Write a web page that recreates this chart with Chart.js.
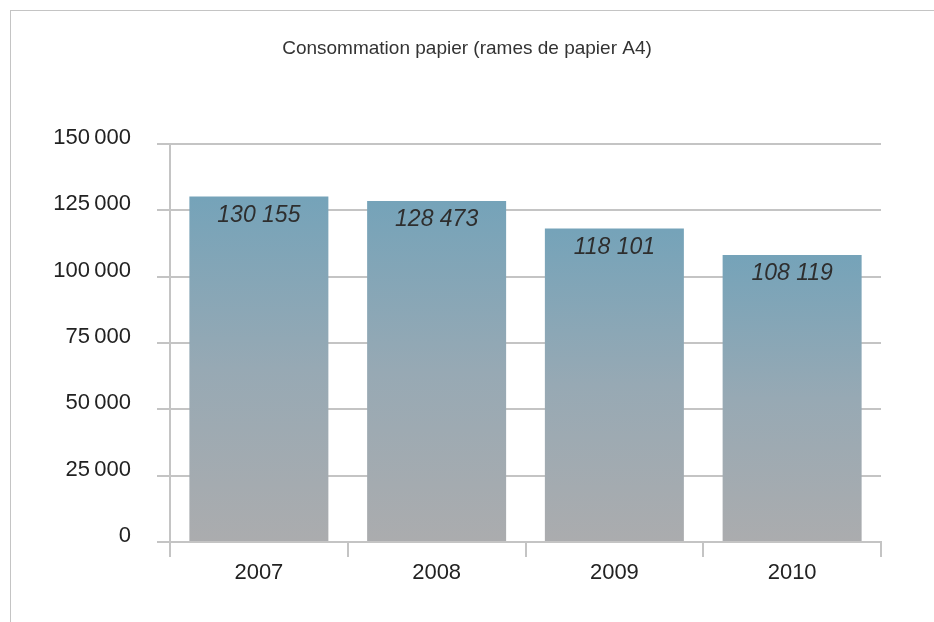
<!DOCTYPE html>
<html>
<head>
<meta charset="utf-8">
<script src="https://cdn.jsdelivr.net/npm/chart.js@4.4.0/dist/chart.umd.min.js"></script>
<style>
  html, body { margin: 0; padding: 0; background: #fff; }
  #wrap { position: relative; width: 934px; height: 622px; }
  #frame { position: absolute; left: 10px; top: 10px; right: 0; bottom: 0;
           border-top: 1px solid #c4c4c4; border-left: 1px solid #c4c4c4; }
  canvas { position: absolute; left: 0; top: 0; }
</style>
</head>
<body>
<div id="wrap">
  <div id="frame"></div>
  <canvas id="paperChart" width="934" height="622"></canvas>
</div>
<script>
const years = ['2007', '2008', '2009', '2010'];
const reams = [130155, 128473, 118101, 108119];
const yMin = 0, yMax = 150000, yStep = 25000;

const fontFamily = "'Liberation Sans', Arial, Helvetica, sans-serif";
const gridColor = '#c4c4c4';

function groupDigits(v, sep) {
  return String(v).replace(/\B(?=(\d{3})+(?!\d))/g, sep);
}

// gradient from blue-grey at the top of each bar to grey at its base
function barGradient(context) {
  const chart = context.chart;
  if (!chart.chartArea || context.raw === undefined) return '#90a8b5';
  const y = chart.scales.y;
  const top = y.getPixelForValue(context.raw);
  const base = y.getPixelForValue(0);
  const g = chart.ctx.createLinearGradient(0, top, 0, base);
  g.addColorStop(0, '#75a3b9');
  g.addColorStop(0.5, '#97a9b4');
  g.addColorStop(1, '#abacae');
  return g;
}

const valueLabels = {
  id: 'valueLabels',
  afterDatasetsDraw(chart) {
    const ctx = chart.ctx;
    const meta = chart.getDatasetMeta(0);
    ctx.save();
    ctx.font = 'italic 23px ' + fontFamily;
    ctx.fillStyle = '#2e2e2e';
    ctx.textAlign = 'center';
    ctx.textBaseline = 'middle';
    meta.data.forEach((bar, i) => {
      ctx.fillText(groupDigits(reams[i], ' '), bar.x, bar.y + 19);
    });
    ctx.restore();
  }
};

const ctx = document.getElementById('paperChart');

new Chart(ctx, {
  type: 'bar',
  data: {
    labels: years,
    datasets: [{
      data: reams,
      backgroundColor: barGradient,
      borderWidth: 0,
      barPercentage: 0.782,
      categoryPercentage: 1
    }]
  },
  options: {
    responsive: false,
    animation: false,
    layout: { padding: 0 },
    plugins: {
      legend: { display: false },
      tooltip: { enabled: false },
      title: {
        display: true,
        text: 'Consommation papier (rames de papier A4)',
        color: '#333',
        font: { family: fontFamily, size: 19, weight: 'normal' },
        padding: { top: 37, bottom: 84 }
      }
    },
    scales: {
      x: {
        afterFit(s) { s.height = 80; },
        grid: {
          offset: true,
          drawOnChartArea: false,
          drawTicks: true,
          tickLength: 15,
          color: gridColor,
          lineWidth: 2
        },
        border: { display: true, color: gridColor, width: 2 },
        ticks: {
          color: '#222',
          padding: 3,
          font: { family: fontFamily, size: 22 }
        }
      },
      y: {
        min: yMin,
        max: yMax,
        afterFit(s) { s.width = 170; },
        grid: {
          color: gridColor,
          lineWidth: 2,
          drawTicks: true,
          tickLength: 13
        },
        border: { display: true, color: gridColor, width: 2 },
        ticks: {
          stepSize: yStep,
          color: '#222',
          padding: 26,
          labelOffset: -6,
          font: { family: fontFamily, size: 22 },
          callback: v => groupDigits(v, '\u2009')
        }
      },
      // empty right-hand axis, only reserves the margin right of the plot
      yRight: {
        position: 'right',
        afterFit(s) { s.width = 53; },
        grid: { display: false },
        border: { display: false },
        ticks: { display: false }
      }
    }
  },
  plugins: [valueLabels]
});
</script>
</body>
</html>
